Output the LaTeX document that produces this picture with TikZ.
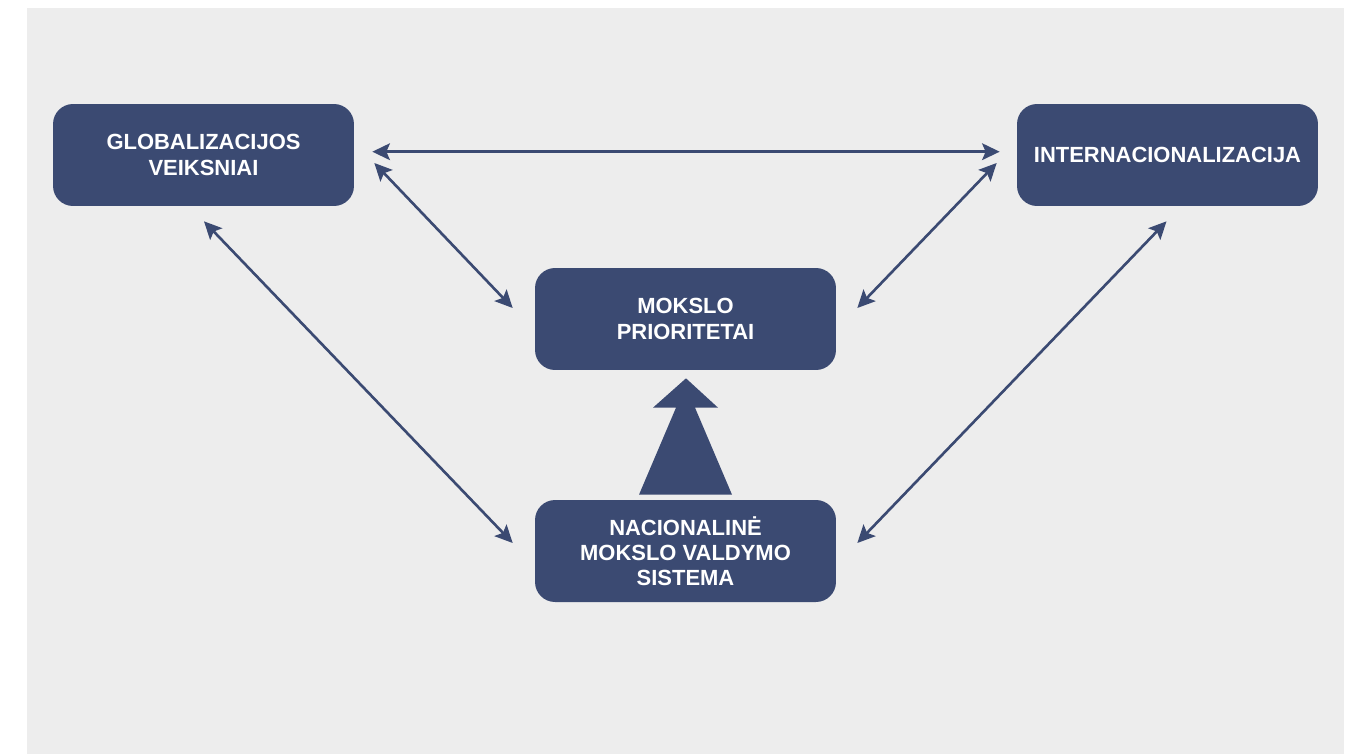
\documentclass[tikz,border=0pt]{standalone}
\usepackage{fontspec}
\setmainfont{Liberation Sans}
\usetikzlibrary{arrows.meta,calc}
\definecolor{boxblue}{HTML}{3B4A72}
\definecolor{bggray}{HTML}{EDEDED}
\begin{document}
\begin{tikzpicture}[x=0.02cm, y=-0.02cm,
            box/.style={draw=none, rectangle, rounded corners=0.4cm, fill=boxblue, text=white, minimum width=6.02cm, minimum height=2.04cm, align=center, font=\bfseries\fontsize{12.5}{14.4}\selectfont},
            link/.style={draw=boxblue, line width=1.5pt, {Stealth[length=10pt, width=9.5pt, inset=2pt]}-{Stealth[length=10pt, width=9.5pt, inset=2pt]}}]

            % fonas
            \useasboundingbox (0,0) rectangle (1348,754);
            \fill[bggray] (27,8) rectangle (1344,754);

            % blokai
            \node[box] (glob) at (203.5,155) {GLOBALIZACIJOS\\VEIKSNIAI};
            \node[box] (inter) at (1167.5,155) {INTERNACIONALIZACIJA};
            \node[box] (prior) at (685.5,319) {MOKSLO\\PRIORITETAI};
            \node[box] (nac) at (685.5,551) {NACIONALINĖ\\MOKSLO VALDYMO\\SISTEMA};

            % rodyklės
            \draw[link] ($(glob.east)+(18,-3.3)$) -- ($(inter.west)+(-17,-3.3)$);
            \draw[link] ($(glob.east)+(20,8)$) -- ($(prior.west)+(-22,-11)$);
            \draw[link] ($(inter.west)+(-20,8)$) -- ($(prior.east)+(21,-11)$);
            \draw[link] ($(glob.south)+(0.5,15)$) -- ($(nac.west)+(-22,-8)$);
            \draw[link] ($(inter.south)+(-1,15)$) -- ($(nac.east)+(21,-8)$);

            % didžioji rodyklė
            \fill[boxblue] ($(nac.north)+(-46.5,-5)$) -- ($(nac.north)+(-9.5,-92)$)
                -- ($(nac.north)+(-32.5,-92)$) -- ($(prior.south)+(0.5,8)$)
                -- ($(nac.north)+(32.5,-92)$) -- ($(nac.north)+(9.5,-92)$)
                -- ($(nac.north)+(46.5,-5)$) -- cycle;
        \end{tikzpicture}
\end{document}
